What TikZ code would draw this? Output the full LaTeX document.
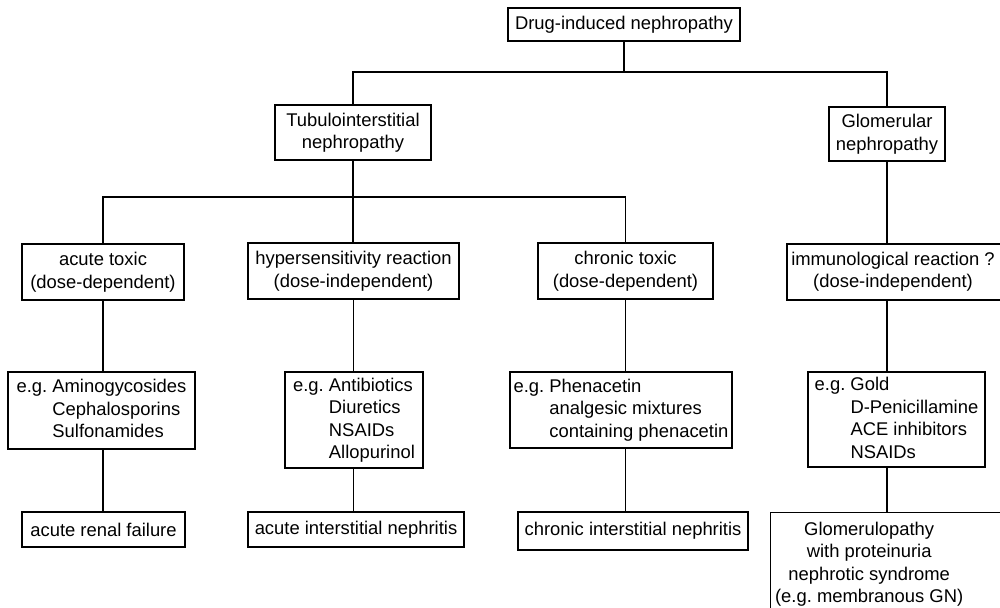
\documentclass[tikz,border=0pt]{standalone}
\usepackage{fontspec}
\setmainfont{Liberation Sans}
\newcommand{\egind}{\phantom{e.g.\ }}
\begin{document}
\begin{tikzpicture}[x=1pt,y=-1pt,
  box/.style={draw, line width=1.3pt, inner sep=0pt, align=center,
    font=\fontsize{18.4}{22.5}\selectfont},
  egbox/.style={box, align=left},
  conn/.style={line width=1.3pt}]
\useasboundingbox (0,0) rectangle (1000,607);
\fill[white] (0,0) rectangle (1000,607);
% level 0 and 1
\node[box, minimum width=232pt, minimum height=33pt] (top) at (624,24.5) {Drug-induced nephropathy};
\node[box, minimum width=156pt, minimum height=55pt] (tub) at (353,132.5) {Tubulointerstitial\\nephropathy};
\node[box, minimum width=116pt, minimum height=54pt] (glo) at (887,134) {Glomerular\\nephropathy};
% level 2
\node[box, minimum width=162pt, minimum height=56pt] (at) at (103,272) {acute toxic\\(dose-dependent)};
\node[box, minimum width=211pt, minimum height=56pt] (hs) at (353.5,271) {hypersensitivity reaction\\(dose-independent)};
\node[box, minimum width=175pt, minimum height=56pt] (ct) at (625.5,271) {chronic toxic\\(dose-dependent)};
\node[box, minimum width=228pt, minimum height=56pt] (imm) at (901,272)
  {\begin{tabular}{@{}c@{}}immunological reaction ?\\(dose-independent)\end{tabular}\hspace{16pt}};
% level 3
\node[egbox, minimum width=187pt, minimum height=77pt] (ami) at (101.5,410.5) {e.g.\ Aminogycosides\\\egind Cephalosporins\\\egind Sulfonamides};
\node[egbox, minimum width=138pt, minimum height=96pt] (ant) at (354,420) {e.g.\ Antibiotics\\\egind Diuretics\\\egind NSAIDs\\\egind Allopurinol};
\node[egbox, minimum width=222pt, minimum height=76pt] (phe) at (621,410) {e.g.\ Phenacetin\\\egind analgesic mixtures\\\egind containing phenacetin};
\node[egbox, minimum width=177pt, minimum height=95pt] (gold) at (896.5,419.5) {e.g.\ Gold\\\egind D-Penicillamine\\\egind ACE inhibitors\\\egind NSAIDs};
% level 4
\node[box, minimum width=163pt, minimum height=35pt] (arf) at (103.5,529.5) {acute renal failure};
\node[box, minimum width=216pt, minimum height=35pt] (ain) at (356,529.5) {acute interstitial nephritis};
\node[box, minimum width=230pt, minimum height=38pt] (cin) at (633,531) {chronic interstitial nephritis};
\node[box, minimum width=235pt, minimum height=104pt, anchor=north west] (glp) at (770,512)
  {\begin{tabular}{@{}c@{}}Glomerulopathy\\with proteinuria\\nephrotic syndrome\\(e.g.\ membranous GN)\end{tabular}\hspace{38pt}};
% connectors
\coordinate (j1) at (624,72);
\coordinate (j2) at (353,197);
\draw[conn] (top.south) -- (j1);
\draw[conn] (tub.north) |- (j1) -| (glo.north);
\draw[conn] (tub.south) -- (j2);
\draw[conn] (at.north) |- (j2) -| (ct.north);
\draw[conn] (j2) -- (hs.north -| j2);
\draw[conn] (glo.south) -- (glo.south |- imm.north);
\draw[conn] (at.south) -- (at.south |- ami.north);
\draw[conn] (ami.south -| at.south) -- (arf.north -| at.south);
\draw[conn] (hs.south) -- (hs.south |- ant.north);
\draw[conn] (ant.south -| hs.south) -- (ain.north -| hs.south);
\draw[conn] (ct.south) -- (ct.south |- phe.north);
\draw[conn] (phe.south -| ct.south) -- (cin.north -| ct.south);
\draw[conn] (imm.south -| glo.south) -- (gold.north -| glo.south);
\draw[conn] (gold.south -| glo.south) -- (glp.north -| glo.south);
\end{tikzpicture}
\end{document}
